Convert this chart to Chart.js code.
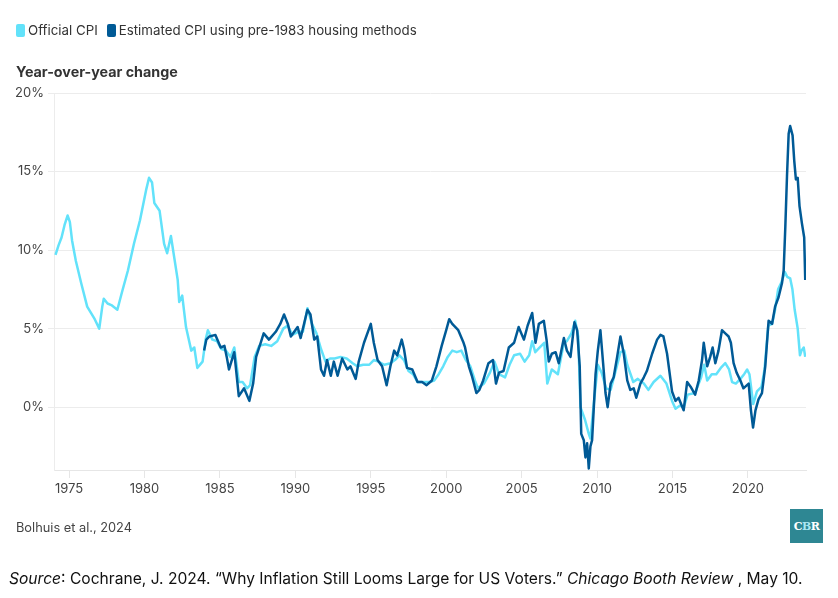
<!DOCTYPE html>
<html>
<head>
<meta charset="utf-8">
<script src="https://cdn.jsdelivr.net/npm/chart.js@4"></script>
<style>
  body { margin: 0; background: #fff; font-family: Inter, "Noto Sans", sans-serif; }
  #wrap { position: relative; width: 838px; height: 598px; overflow: hidden; }
  #c { position: absolute; left: 0; top: 0; }
  .legend { position: absolute; left: 16px; top: 22px; display: flex; align-items: center; font-size: 13.3px; color: #333; }
  .sw { display: inline-block; width: 9px; height: 13px; border-radius: 2px; margin-right: 3px; }
  .item { display: flex; align-items: center; margin-right: 9px; }
  .title { position: absolute; left: 16px; top: 63px; font-size: 14.3px; font-weight: 700; color: #333; }
  .credit { position: absolute; left: 16px; top: 520px; font-size: 12.8px; color: #444; }
  .logo { position: absolute; left: 790px; top: 509px; width: 33px; height: 34px; background: #2e8793;
          font-family: "DejaVu Serif", serif; font-weight: 700; font-size: 11px; color: #fff;
          display: flex; align-items: center; justify-content: center; letter-spacing: -0.5px; }
  .source { position: absolute; left: 9px; top: 569px; font-size: 15.6px; color: #111; white-space: nowrap; }
</style>
</head>
<body>
<div id="wrap">
  <canvas id="c" width="838" height="598"></canvas>
  <div class="legend">
    <span class="item"><span class="sw" style="background:#62e2fa"></span>Official CPI</span>
    <span class="item"><span class="sw" style="background:#005a96"></span>Estimated CPI using pre-1983 housing methods</span>
  </div>
  <div class="title">Year-over-year change</div>
  <div class="credit">Bolhuis et al., 2024</div>
  <div class="logo">C<span style="color:#a9e6f2">B</span>R</div>
  <div class="source"><i>Source</i>: Cochrane, J. 2024. “Why Inflation Still Looms Large for US Voters.” <i>Chicago Booth Review</i> , May 10.</div>
</div>
<script>
// official CPI, year-over-year % change (dates as decimal years)
const officialDates = [1974.1,1974.3,1974.5,1974.7,1974.9,1975.05,1975.2,1975.45,1975.8,1976.2,1976.45,1976.7,1977.0,1977.2,1977.3,1977.55,1977.8,1978.2,1978.5,1978.9,1979.3,1979.7,1980.1,1980.3,1980.5,1980.65,1981.0,1981.3,1981.5,1981.75,1982.2,1982.3,1982.5,1982.75,1983.1,1983.3,1983.5,1983.85,1984.05,1984.2,1984.5,1984.8,1985.1,1985.4,1985.7,1985.95,1986.25,1986.5,1986.8,1987.0,1987.3,1987.6,1988.0,1988.4,1988.8,1989.2,1989.5,1989.8,1990.2,1990.5,1990.8,1991.1,1991.4,1991.7,1992.0,1992.3,1992.6,1993.0,1993.4,1993.8,1994.1,1994.5,1994.9,1995.2,1995.5,1995.9,1996.3,1996.6,1996.9,1997.2,1997.5,1997.8,1998.1,1998.5,1998.9,1999.2,1999.5,1999.8,2000.1,2000.4,2000.7,2001.0,2001.3,2001.6,2001.9,2002.1,2002.5,2002.9,2003.2,2003.5,2003.9,2004.2,2004.5,2004.9,2005.2,2005.5,2005.7,2005.9,2006.2,2006.5,2006.7,2007.0,2007.4,2007.8,2008.0,2008.3,2008.55,2008.75,2008.9,2009.2,2009.45,2009.56,2009.8,2010.05,2010.3,2010.6,2010.9,2011.2,2011.55,2011.8,2012.0,2012.4,2012.7,2013.1,2013.4,2013.75,2014.2,2014.6,2014.97,2015.2,2015.5,2015.75,2016.0,2016.5,2016.9,2017.1,2017.3,2017.6,2017.9,2018.2,2018.5,2018.75,2018.95,2019.2,2019.5,2019.75,2019.95,2020.1,2020.35,2020.6,2020.9,2021.1,2021.35,2021.6,2021.8,2022.0,2022.2,2022.45,2022.6,2022.8,2022.95,2023.1,2023.3,2023.45,2023.55,2023.7,2023.8];
const officialCPI = [9.7,10.3,10.8,11.6,12.2,11.8,10.6,9.3,7.9,6.4,6.0,5.6,5.0,6.4,6.9,6.6,6.5,6.2,7.3,8.7,10.4,11.9,13.8,14.6,14.3,13.0,12.5,10.4,9.8,10.9,8.1,6.7,7.1,5.1,3.6,3.8,2.5,2.9,4.3,4.9,4.3,4.2,3.7,3.6,3.2,3.8,1.6,1.6,1.2,1.4,3.2,3.9,4.0,3.9,4.2,5.0,5.2,4.6,4.8,4.8,6.3,5.3,4.7,3.7,2.9,3.1,3.1,3.2,3.1,2.8,2.6,2.7,2.7,3.0,2.9,2.7,2.8,3.0,3.3,3.0,2.3,2.1,1.6,1.6,1.6,1.7,2.1,2.6,3.2,3.6,3.5,3.6,3.0,2.6,1.7,1.2,1.5,2.2,2.9,2.1,1.9,2.7,3.3,3.4,2.9,3.3,4.2,3.5,3.8,4.1,1.5,2.4,2.1,4.1,4.2,4.7,5.5,4.5,0.0,-0.8,-1.7,-2.0,0.4,2.7,2.2,1.2,1.1,2.2,3.5,3.6,2.7,1.6,1.8,1.5,1.1,1.6,2.0,1.5,0.4,-0.1,0.1,0.0,0.8,0.9,1.9,2.7,1.7,2.1,2.1,2.5,2.8,2.4,1.6,1.5,1.8,2.1,2.4,2.1,0.2,1.0,1.3,2.4,5.2,5.3,6.2,7.5,7.9,8.6,8.3,8.2,7.5,6.2,5.0,3.3,3.6,3.8,3.2];

// estimated CPI using pre-1983 housing methods
const estimatedDates = [1983.95,1984.1,1984.3,1984.7,1985.05,1985.3,1985.45,1985.6,1985.95,1986.25,1986.6,1986.95,1987.2,1987.4,1987.7,1987.9,1988.25,1988.7,1989.0,1989.25,1989.5,1989.7,1990.15,1990.35,1990.8,1991.0,1991.25,1991.45,1991.7,1991.9,1992.1,1992.35,1992.55,1992.8,1993.1,1993.45,1993.65,1994.0,1994.2,1994.55,1995.0,1995.2,1995.45,1995.75,1996.05,1996.3,1996.55,1996.75,1997.05,1997.2,1997.4,1997.75,1998.1,1998.4,1998.7,1999.05,1999.35,1999.7,2000.0,2000.2,2000.4,2000.8,2001.15,2001.25,2001.5,2001.7,2002.0,2002.2,2002.45,2002.8,2003.1,2003.3,2003.5,2003.8,2004.15,2004.5,2004.8,2005.15,2005.4,2005.7,2005.92,2006.14,2006.47,2006.65,2006.8,2007.0,2007.25,2007.46,2007.8,2008.0,2008.24,2008.5,2008.68,2008.85,2008.95,2009.12,2009.23,2009.34,2009.45,2009.56,2009.67,2009.9,2010.05,2010.22,2010.4,2010.56,2010.7,2010.9,2011.1,2011.33,2011.55,2011.77,2012.0,2012.2,2012.43,2012.6,2012.87,2013.1,2013.3,2013.65,2013.98,2014.2,2014.4,2014.64,2014.97,2015.2,2015.4,2015.74,2015.97,2016.2,2016.5,2016.74,2016.96,2017.07,2017.3,2017.5,2017.66,2017.84,2018.05,2018.28,2018.5,2018.72,2018.87,2019.05,2019.25,2019.5,2019.7,2020.05,2020.2,2020.34,2020.5,2020.7,2020.93,2021.15,2021.37,2021.6,2021.8,2022.03,2022.26,2022.37,2022.48,2022.59,2022.7,2022.8,2022.96,2023.07,2023.18,2023.3,2023.42,2023.58,2023.73,2023.8];
const estimatedCPI = [3.6,4.3,4.5,4.6,3.8,3.9,3.2,2.4,3.5,0.7,1.2,0.4,1.5,3.2,4.1,4.7,4.3,4.8,5.3,5.9,5.3,4.5,5.1,4.4,6.2,5.9,4.3,4.5,2.4,2.0,3.0,2.0,2.9,2.0,3.1,2.4,2.6,1.8,2.9,4.1,5.3,4.1,3.0,2.6,1.4,2.6,3.6,3.3,4.3,3.7,2.5,2.4,1.6,1.6,1.4,1.7,2.6,3.9,4.9,5.6,5.3,4.9,4.1,3.8,2.6,2.0,0.9,1.1,1.7,2.8,3.0,1.5,2.2,2.3,3.8,4.1,5.1,4.3,5.2,6.0,4.1,5.3,5.5,4.3,2.9,3.4,3.5,2.8,4.4,3.6,3.2,5.4,4.9,2.6,-1.7,-2.1,-3.2,-2.3,-3.9,-2.5,-2.1,2.1,3.6,4.9,2.8,0.9,0.0,1.5,1.9,3.2,4.5,3.4,1.7,1.1,1.2,0.6,1.5,1.9,2.3,3.4,4.3,4.6,4.5,3.4,1.0,0.4,0.6,-0.2,1.6,1.3,0.8,1.7,3.0,4.1,2.6,3.2,3.8,2.8,3.6,4.9,4.7,4.5,4.1,2.8,2.2,1.7,1.2,1.5,-0.2,-1.3,-0.2,0.5,0.9,2.6,5.5,5.3,6.4,7.0,7.9,8.7,11.5,14.7,17.4,17.9,17.3,15.7,14.5,14.6,12.8,11.7,10.8,8.1];

const xTicks = [1975,1980,1985,1990,1995,2000,2005,2010,2015,2020];
const yTicks = [0,5,10,15,20];

const toPoints = (xs, ys) => xs.map((x, i) => ({ x: x, y: ys[i] }));

new Chart(document.getElementById('c'), {
  type: 'line',
  data: {
    datasets: [{
      label: 'Official CPI',
      data: toPoints(officialDates, officialCPI),
      borderColor: '#62e2fa',
      borderWidth: 2.5,
      order: 2
    }, {
      label: 'Estimated CPI using pre-1983 housing methods',
      data: toPoints(estimatedDates, estimatedCPI),
      borderColor: '#005a96',
      borderWidth: 2.5,
      order: 1
    }]
  },
  options: {
    responsive: false,
    animation: false,
    elements: { point: { radius: 0 }, line: { tension: 0, borderJoinStyle: 'round' } },
    layout: { padding: { left: 16, top: 93, right: 32, bottom: 98 } },
    plugins: { legend: { display: false }, tooltip: { enabled: false } },
    scales: {
      x: {
        type: 'linear',
        min: 1974,
        max: 2023.85,
        afterBuildTicks: s => { s.ticks = xTicks.map(v => ({ value: v })) },
        afterFit: s => { s.height = 30 },
        grid: { drawOnChartArea: false, drawTicks: true, tickLength: 8, color: '#e6e6e6' },
        border: { color: '#e6e6e6' },
        ticks: { padding: 3, color: '#444', font: { family: 'Inter', size: 13 }, maxRotation: 0, callback: v => String(v) }
      },
      y: {
        min: -4,
        max: 20,
        afterBuildTicks: s => { s.ticks = yTicks.map(v => ({ value: v })) },
        afterFit: s => { s.width = 38 },
        grid: { color: '#ececec', drawTicks: true, tickLength: 6 },
        border: { color: '#ececec' },
        ticks: { padding: 4, color: '#444', font: { family: 'Inter', size: 13 }, callback: v => v + '%' }
      }
    }
  }
});
</script>
</body>
</html>
